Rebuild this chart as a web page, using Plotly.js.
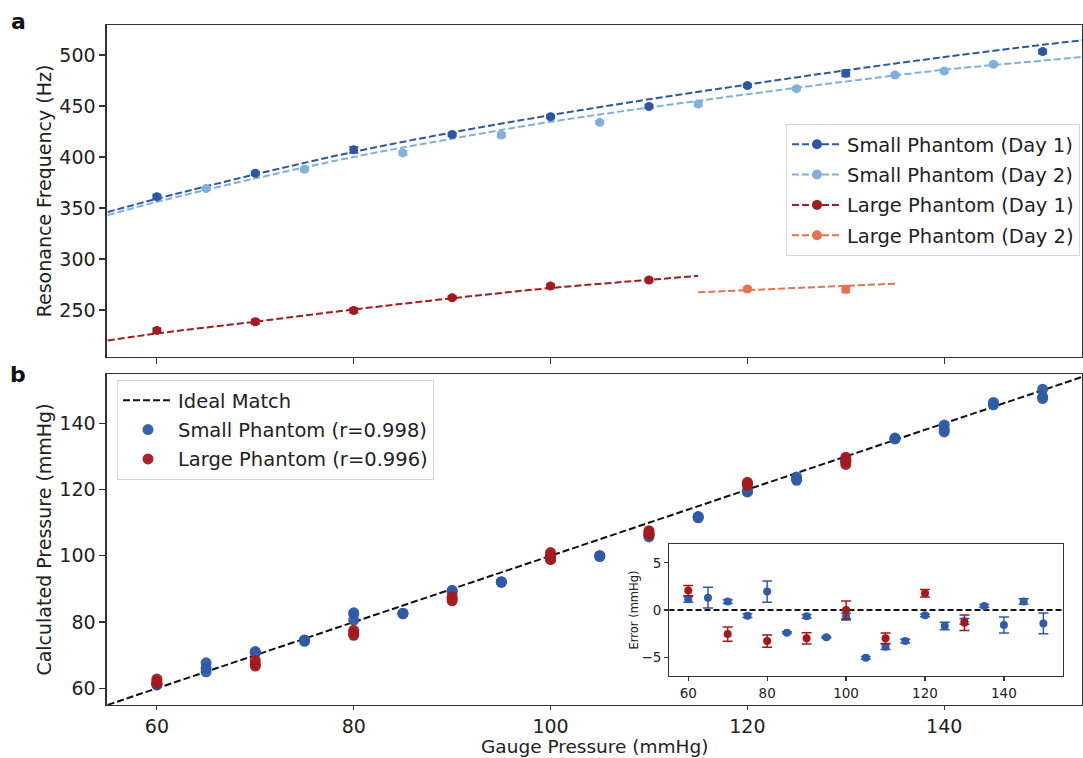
<!DOCTYPE html>
<html>
<head>
<meta charset="utf-8">
<script src="https://cdn.plot.ly/plotly-3.0.1.min.js"></script>
<style>html,body{margin:0;padding:0;background:#fff;}#chart{width:1083px;height:758px;}</style>
</head>
<body>
<div id="chart"></div>
<script>
// ---------- Panel a : resonance frequency ----------
const smallDay1P = [60, 70, 80, 90, 100, 110, 120, 130, 150];
const smallDay1F = [361, 384, 407, 422, 439.5, 449.5, 470, 482, 503.3];
const smallDay1Sd = [2, 1.5, 3, 1.5, 1.5, 1.5, 1.5, 3, 2];
const smallDay2P = [65, 75, 85, 95, 105, 115, 125, 135, 140, 145];
const smallDay2F = [369, 388, 404, 421.5, 434, 452, 467, 480.4, 484.3, 490.9];
const smallDay2Sd = [1.5, 1.5, 2, 2, 1.5, 2, 1.5, 1.5, 1.5, 1.5];
const largeDay1P = [60, 70, 80, 90, 100, 110];
const largeDay1F = [230, 238.5, 249.5, 262, 273.5, 279.4];
const largeDay1Sd = [2, 2, 2, 1.5, 1.5, 1.5];
const largeDay2P = [120, 130];
const largeDay2F = [270.6, 270.3];
const largeDay2Sd = [1.5, 3];

// fitted curves
const fitSmallP = [55, 60, 70, 80, 90, 100, 110, 120, 130, 140, 150, 155];
const fitSmallDay1 = [346, 359, 383, 405, 424, 441, 456.5, 471, 485, 498, 510, 515.5];
const fitSmallDay2 = [343, 356, 379, 400, 418, 434.5, 448.5, 461.5, 474, 485.5, 494.5, 499];
const fitLargeDay1P = [55, 60, 70, 80, 90, 100, 110, 115];
const fitLargeDay1 = [220, 227, 238.5, 250.5, 261.5, 271.5, 279.5, 283.5];
const fitLargeDay2P = [115, 125, 135];
const fitLargeDay2 = [267.3, 271.6, 275.8];

// ---------- Panel b : calculated vs gauge pressure ----------
const idealLine = [55, 155];
const smallLevels = [60, 65, 70, 75, 80, 85, 90, 95, 100, 105, 110, 115, 120, 125, 130, 135, 140, 145, 150];
const smallCalc = [
  [61.0, 61.2, 61.6], [65.0, 66.2, 67.7], [70.7, 70.9, 71.1], [74.2, 74.4, 74.6],
  [80.6, 82.5, 82.8], [82.5, 82.6, 82.7], [89.1, 89.3, 89.6], [92.0, 92.1, 92.2],
  [98.9, 99.3, 99.7], [99.8, 99.9, 100.1], [105.7, 106.1, 106.5], [111.5, 111.7, 111.9],
  [119.3, 119.4, 119.6], [122.8, 123.3, 123.8], [128.4, 128.7, 129.1], [135.3, 135.4, 135.6],
  [137.4, 138.2, 139.5], [145.6, 145.9, 146.3], [147.5, 148.0, 150.3]
];
const largeLevels = [60, 70, 80, 90, 100, 110, 120, 130];
const largeCalc = [
  [61.4, 62.0, 62.8], [66.7, 67.3, 68.4], [76.0, 76.6, 77.5], [86.4, 87.0, 87.6],
  [98.9, 100.0, 101.0], [106.4, 107.0, 107.6], [121.3, 121.8, 122.2], [127.6, 128.6, 129.8]
];

// inset: mean error and spread
const smallErrMean = [1.13, 1.3, 0.9, -0.6, 1.95, -2.4, -0.67, -2.9, -0.7, -5.07, -3.9, -3.3, -0.57, -1.7, -1.2, 0.43, -1.6, 0.9, -1.42];
const smallErrSd = [0.3, 1.1, 0.2, 0.2, 1.13, 0.1, 0.2, 0.1, 0.35, 0.15, 0.3, 0.2, 0.15, 0.4, 0.3, 0.15, 0.85, 0.3, 1.1];
const largeErrMean = [2.06, -2.55, -3.3, -3.0, 0.0, -3.0, 1.77, -1.35];
const largeErrSd = [0.55, 0.76, 0.65, 0.6, 0.95, 0.55, 0.4, 0.83];
const zeroLine = [0, 0];

// ---------- styling ----------
const C_DB = '#2d57a6', C_LB = '#80b0dc', C_DR = '#a11b1f', C_OR = '#e8724f';
const C_BLUE = '#2f5ba8', C_RED = '#a5191e';
const DASH = '7px,3px';
const FONT = 'DejaVu Sans, Arial, sans-serif';

function flatten(levels, vals) {
  const x = [], y = [];
  levels.forEach((l, i) => vals[i].forEach(v => { x.push(l); y.push(v); }));
  return {x, y};
}
const sFlat = flatten(smallLevels, smallCalc);
const lFlat = flatten(largeLevels, largeCalc);

function pts(x, y, sd, color) {
  return {x, y, type: 'scatter', mode: 'markers', xaxis: 'x', yaxis: 'y', showlegend: false,
    marker: {color, size: 9},
    error_y: {type: 'data', array: sd, visible: true, color, thickness: 1.8, width: 4.5}};
}
function fit(x, y, color) {
  return {x, y, type: 'scatter', mode: 'lines', xaxis: 'x', yaxis: 'y', showlegend: false,
    line: {color, width: 2, dash: DASH, shape: 'spline'}, hoverinfo: 'skip'};
}
function legendEntry(name, color, g) {
  return {x: [null], y: [null], type: 'scatter', mode: 'lines+markers', xaxis: 'x', yaxis: 'y',
    name, legendgroup: g, legend: 'legend',
    line: {color, width: 2, dash: DASH}, marker: {color, size: 10}};
}

const traces = [
  fit(fitSmallP, fitSmallDay1, C_DB),
  fit(fitSmallP, fitSmallDay2, C_LB),
  fit(fitLargeDay1P, fitLargeDay1, C_DR),
  fit(fitLargeDay2P, fitLargeDay2, C_OR),
  pts(smallDay1P, smallDay1F, smallDay1Sd, C_DB),
  pts(smallDay2P, smallDay2F, smallDay2Sd, C_LB),
  pts(largeDay1P, largeDay1F, largeDay1Sd, C_DR),
  pts(largeDay2P, largeDay2F, largeDay2Sd, C_OR),
  legendEntry('Small Phantom (Day 1)', C_DB, 'g1'),
  legendEntry('Small Phantom (Day 2)', C_LB, 'g2'),
  legendEntry('Large Phantom (Day 1)', C_DR, 'g3'),
  legendEntry('Large Phantom (Day 2)', C_OR, 'g4'),
  // panel b
  {x: idealLine, y: idealLine, type: 'scatter', mode: 'lines', xaxis: 'x2', yaxis: 'y2',
    name: 'Ideal Match', legend: 'legend2', legendgroup: 'h1',
    line: {color: '#111', width: 2, dash: DASH}},
  {x: sFlat.x, y: sFlat.y, type: 'scatter', mode: 'markers', xaxis: 'x2', yaxis: 'y2',
    name: 'Small Phantom (r=0.998)', legend: 'legend2', legendgroup: 'h2',
    marker: {color: C_BLUE, size: 11, opacity: 0.95}},
  {x: lFlat.x, y: lFlat.y, type: 'scatter', mode: 'markers', xaxis: 'x2', yaxis: 'y2',
    name: 'Large Phantom (r=0.996)', legend: 'legend2', legendgroup: 'h3',
    marker: {color: C_RED, size: 11, opacity: 0.95}},
  // inset
  {x: idealLine, y: zeroLine, type: 'scatter', mode: 'lines', xaxis: 'x3', yaxis: 'y3', showlegend: false,
    line: {color: '#111', width: 2, dash: '6px,3px'}},
  {x: smallLevels, y: smallErrMean, type: 'scatter', mode: 'markers', xaxis: 'x3', yaxis: 'y3', showlegend: false,
    marker: {color: C_BLUE, size: 8},
    error_y: {type: 'data', array: smallErrSd, visible: true, color: C_BLUE, thickness: 1.5, width: 5}},
  {x: largeLevels, y: largeErrMean, type: 'scatter', mode: 'markers', xaxis: 'x3', yaxis: 'y3', showlegend: false,
    marker: {color: C_RED, size: 8},
    error_y: {type: 'data', array: largeErrSd, visible: true, color: C_RED, thickness: 1.5, width: 5}}
];

const W = 1083, H = 758;
const px = v => v / W, py = v => 1 - v / H;
const axBase = {showline: true, mirror: true, linecolor: '#333', linewidth: 1.3, ticks: 'outside',
  ticklen: 6, tickwidth: 1.2, tickcolor: '#333', showgrid: false, zeroline: false,
  tickfont: {size: 19, color: '#222', family: FONT}};

const layout = {
  width: W, height: H, margin: {l: 0, r: 0, t: 0, b: 0},
  paper_bgcolor: '#fff', plot_bgcolor: 'rgba(0,0,0,0)',
  font: {family: FONT, color: '#222'},
  xaxis: Object.assign({}, axBase, {domain: [px(106.7), px(1082)], range: [54.9, 154.0],
    tickvals: [60, 80, 100, 120, 140], showticklabels: false, anchor: 'y'}),
  yaxis: Object.assign({}, axBase, {domain: [py(357), py(25)], range: [203.9, 529.4],
    tickvals: [250, 300, 350, 400, 450, 500], anchor: 'x',
    title: {text: 'Resonance Frequency (Hz)', font: {size: 19, family: FONT, color: '#222'}, standoff: 2}}),
  xaxis2: Object.assign({}, axBase, {domain: [px(106.7), px(1082)], range: [54.9, 154.0],
    tickvals: [60, 80, 100, 120, 140], anchor: 'y2', ticklen: 4}),
  yaxis2: Object.assign({}, axBase, {domain: [py(705), py(374)], range: [54.96, 154.9],
    tickvals: [60, 80, 100, 120, 140], anchor: 'x2',
    title: {text: 'Calculated Pressure (mmHg)', font: {size: 19, family: FONT, color: '#222'}, standoff: 2}}),
  xaxis3: Object.assign({}, axBase, {domain: [px(669.3), px(1062.7)], range: [55.2, 154.9],
    tickvals: [60, 80, 100, 120, 140], anchor: 'y3', ticklen: 4, tickfont: {size: 13.5, color: '#222', family: FONT}}),
  yaxis3: Object.assign({}, axBase, {domain: [py(676), py(544)], range: [-7, 7],
    tickvals: [-5, 0, 5], anchor: 'x3', ticklen: 4, tickfont: {size: 13.5, color: '#222', family: FONT},
    title: {text: 'Error (mmHg)', font: {size: 11.5, family: FONT, color: '#222'}, standoff: 0}}),
  legend: {x: px(786), y: py(124), xanchor: 'left', yanchor: 'top', bgcolor: 'rgba(255,255,255,0.85)',
    bordercolor: '#d6d6d6', borderwidth: 1, font: {size: 19.5, family: FONT, color: '#222'},
    itemwidth: 50, tracegroupgap: 2, traceorder: 'grouped'},
  legend2: {x: px(117), y: py(380), xanchor: 'left', yanchor: 'top', bgcolor: 'rgba(255,255,255,0.85)',
    bordercolor: '#d6d6d6', borderwidth: 1, font: {size: 19.5, family: FONT, color: '#222'},
    itemwidth: 50, tracegroupgap: 1, traceorder: 'grouped'},
  annotations: [
    {text: '<b>a</b>', x: px(18), y: py(22), xref: 'paper', yref: 'paper', showarrow: false,
      xanchor: 'center', yanchor: 'middle', font: {size: 22, family: FONT, color: '#111'}},
    {text: '<b>b</b>', x: px(18), y: py(375), xref: 'paper', yref: 'paper', showarrow: false,
      xanchor: 'center', yanchor: 'middle', font: {size: 22, family: FONT, color: '#111'}},
    {text: 'Gauge Pressure (mmHg)', x: px(594), y: 0, xref: 'paper', yref: 'paper', showarrow: false,
      xanchor: 'center', yanchor: 'bottom', borderpad: 0, font: {size: 18.5, family: FONT, color: '#222'}}
  ]
};

Plotly.newPlot('chart', traces, layout, {displayModeBar: false, staticPlot: true});
</script>
</body>
</html>
